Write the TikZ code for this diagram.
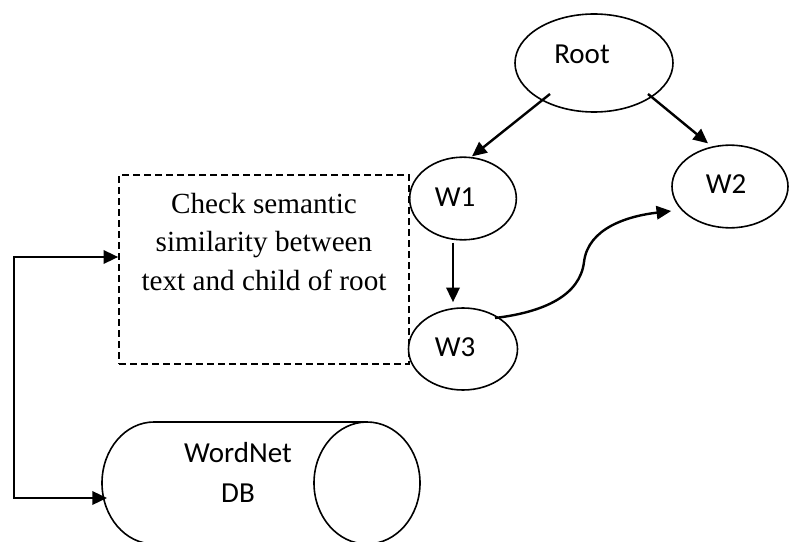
\documentclass[tikz,border=0pt]{standalone}
\usepackage{fontspec}
\setmainfont{Liberation Serif}
\newfontfamily\labelfont{Carlito}
\usetikzlibrary{arrows.meta,shapes.geometric,calc}

\begin{document}
\begin{tikzpicture}[x=0.75pt,y=-0.75pt,
  treenode/.style={ellipse, draw, line width=1.2pt, fill=white, inner sep=0pt},
  nodetext/.style={font=\labelfont\fontsize{21.75pt}{30pt}\selectfont, inner sep=0pt},
  link/.style={line width=1.8pt, -{Triangle[length=11pt,width=10pt]}},
  twolink/.style={line width=1.8pt, {Triangle[length=11pt,width=10pt]}-{Triangle[length=11pt,width=10pt]}},
  checkbox/.style={draw, line width=1.2pt, dash pattern=on 5.25pt off 3pt, inner sep=0pt,
    minimum width=217.5pt, minimum height=141.75pt}]
\useasboundingbox (0,0) rectangle (789,542);
\clip (0,0) rectangle (789,542);

% dashed process box and its text
\node[checkbox] (check) at (264,269.5) {};
\node[anchor=north, align=center, inner sep=0pt,
  font=\fontsize{21.9pt}{28.9pt}\selectfont] (checktext) at (264,192.5)
  {Check semantic\\similarity between\\text and child of root};

% WordNet database drawn as a horizontal cylinder
\coordinate (dbtop) at (367,422);
\path[draw, line width=1.2pt, fill=white]
  (dbtop) -- (154,422) arc[start angle=270, end angle=90, x radius=52, y radius=61]
  -- (367,544);
\draw[line width=1.2pt, fill=white] (367,483) ellipse[x radius=53, y radius=61];
\node[nodetext, anchor=north, align=center] (db) at (238,442) {WordNet\\DB};
\coordinate (dbin) at (107,498);

% tree nodes
\node[treenode, minimum width=118.5pt, minimum height=73.5pt] (root) at (594,63) {};
\node[treenode, minimum width=80pt, minimum height=62pt] (w1) at (463,198.5) {};
\node[treenode, minimum width=87pt, minimum height=62pt] (w2) at (730,186.5) {};
\node[treenode, minimum width=81.75pt, minimum height=61.5pt] (w3) at (463,349) {};
\node[nodetext] (rootlabel) at ($(root.center)+(-12,-8.5)$) {Root};
\node[nodetext] (w1label) at ($(w1.center)+(-8,-1)$) {W1};
\node[nodetext] (w2label) at ($(w2.center)+(-4,-2.5)$) {W2};
\node[nodetext] (w3label) at ($(w3.center)+(-8,-1.5)$) {W3};

% connectors
\draw[link] ($(root.center)+(-44,31)$) -- ($(w1.north)+(9,0)$);
\draw[link] ($(root.center)+(54,31)$) -- ($(w2.north)+(-22,-1)$);
\draw[link] ($(w1.south)+(-10,2)$) -- ($(w3.north)+(-10,-5)$);
\draw[link] ($(w3.center)+(32,-31)$)
  .. controls (545,312) and (580,295) .. (584,262)
  .. controls (588,228) and (628,216) .. ($(w2.west)+(0,24.5)$);
\coordinate (elbow) at (14,257);
\draw[twolink] ($(check.west)+(0,-12.5)$) -- (elbow) |- (dbin);
\end{tikzpicture}
\end{document}
